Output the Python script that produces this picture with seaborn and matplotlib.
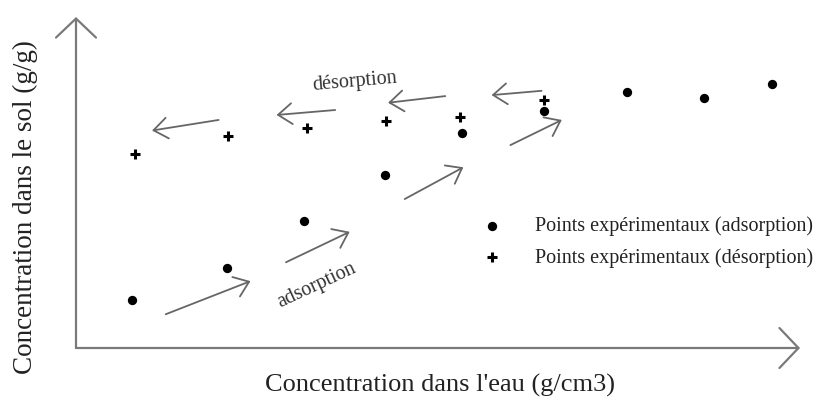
import matplotlib
matplotlib.use("Agg")
import matplotlib.pyplot as plt
import pandas as pd
import seaborn as sns

ads_x = [0.77, 2.09, 3.15, 4.27, 5.33, 6.46, 7.61, 8.68, 9.62]
ads_y = [1.45, 2.41, 3.83, 5.23, 6.50, 7.17, 7.74, 7.54, 7.98]
des_x = [0.81, 2.10, 3.19, 4.28, 5.31, 6.46]
des_y = [5.86, 6.40, 6.66, 6.86, 6.99, 7.49]

# direction arrows: (x_start, y_start, x_end, y_end)
ads_arrows = [(1.24, 1.02, 2.41, 2.02), (2.90, 2.59, 3.78, 3.51),
              (4.54, 4.50, 5.35, 5.46), (6.00, 6.13, 6.71, 6.89)]
des_arrows = [(1.97, 6.89, 1.05, 6.57), (3.58, 7.19, 2.77, 7.04),
              (5.10, 7.61, 4.31, 7.41), (6.43, 7.77, 5.74, 7.64)]

ads_label = 'Points expérimentaux (adsorption)'
des_label = 'Points expérimentaux (désorption)'

sns.set_style("white")
plt.rcParams['font.family'] = ['Liberation Serif', 'DejaVu Serif']

W, H = 820, 401
fig = plt.figure(figsize=(W / 100, H / 100), dpi=100)
ax = fig.add_axes([76 / W, (H - 348) / H, (800 - 76) / W, (348 - 17) / H])
ax.set_xlim(0, 10)
ax.set_ylim(0, 10)
ax.set_xticks([])
ax.set_yticks([])
for s in ax.spines.values():
    s.set_visible(False)

ads = pd.DataFrame({'x': ads_x, 'y': ads_y})
des = pd.DataFrame({'x': des_x, 'y': des_y})
sns.scatterplot(data=ads, x='x', y='y', marker='o', color='black', s=45,
                linewidth=0, label=ads_label, ax=ax)
sns.scatterplot(data=des, x='x', y='y', marker='+', color='black', s=55,
                linewidth=2.2, label=des_label, ax=ax)

axis_col = '#7a7a7a'
arrow_col = '#666666'

# axes with open arrowheads
ax.annotate('', xy=(1, 0), xytext=(0, 0), xycoords='axes fraction',
            arrowprops=dict(arrowstyle='->, head_length=1.37, head_width=1.44',
                            mutation_scale=10, color=axis_col, lw=1.6,
                            shrinkA=0, shrinkB=0))
ax.annotate('', xy=(0, 1), xytext=(0, 0), xycoords='axes fraction',
            arrowprops=dict(arrowstyle='->, head_length=1.37, head_width=1.44',
                            mutation_scale=10, color=axis_col, lw=1.6,
                            shrinkA=0, shrinkB=0))

for x0, y0, x1, y1 in ads_arrows + des_arrows:
    ax.annotate('', xy=(x1, y1), xytext=(x0, y0),
                arrowprops=dict(arrowstyle='->, head_length=1.0, head_width=0.75',
                                mutation_scale=10, color=arrow_col, lw=1.3,
                                shrinkA=0, shrinkB=0))

ax.text(3.85, 8.04, 'désorption', fontsize=14.5, color='#333333',
        rotation=5, ha='center', va='center')
ax.text(3.33, 1.90, 'adsorption', fontsize=14.5, color='#333333',
        rotation=25, ha='center', va='center')

fig.text(440 / W, 1 - 385 / H, "Concentration dans l'eau (g/cm3)",
         fontsize=19, color='#222222', ha='center', va='center')
fig.text(25 / W, 1 - 207 / H, 'Concentration dans le sol (g/g)',
         fontsize=19.5, color='#222222', ha='center', va='center', rotation=90)

leg = ax.legend(loc='center left', bbox_to_anchor=(482 / W, 1 - 242 / H),
                bbox_transform=fig.transFigure, frameon=False, fontsize=14.5,
                handlelength=1.0, handletextpad=1.65, labelspacing=0.6,
                borderpad=0, borderaxespad=0)
for t in leg.get_texts():
    t.set_color('#222222')

fig.savefig('out.png', dpi=100)
